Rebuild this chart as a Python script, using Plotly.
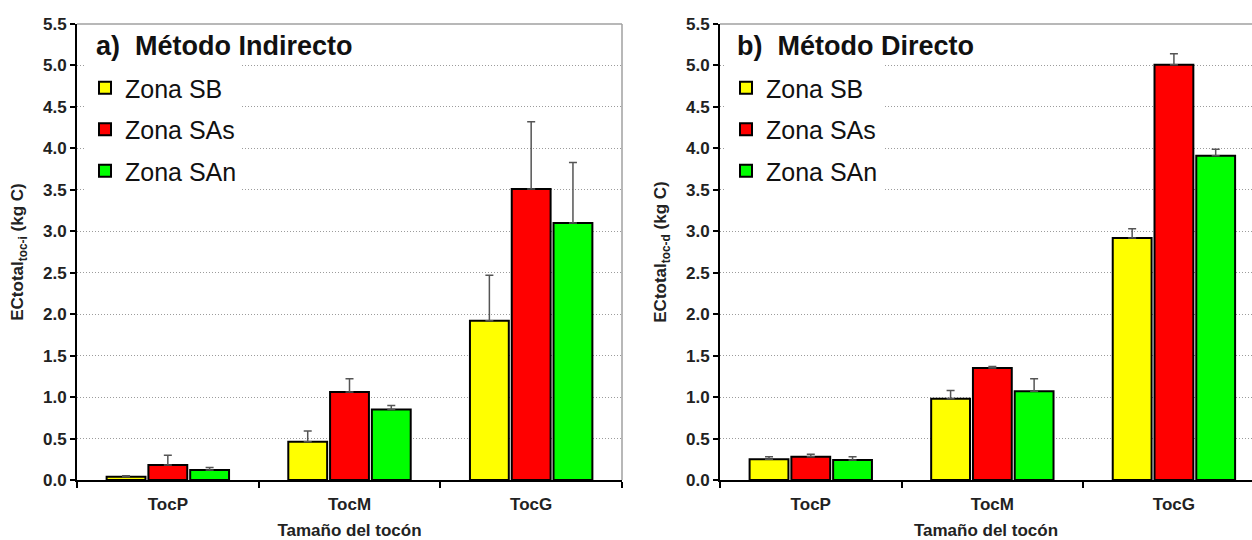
import plotly.graph_objects as go

categories = ["TocP", "TocM", "TocG"]
zones = ["Zona SB", "Zona SAs", "Zona SAn"]
colors = ["#FFFF00", "#FF0000", "#00FF00"]

# a) Método Indirecto
ind_SB = [0.04, 0.46, 1.92]
ind_SAs = [0.18, 1.06, 3.51]
ind_SAn = [0.12, 0.85, 3.10]
ind_SB_err = [0.01, 0.13, 0.55]
ind_SAs_err = [0.12, 0.16, 0.81]
ind_SAn_err = [0.03, 0.05, 0.73]

# b) Método Directo
dir_SB = [0.25, 0.98, 2.92]
dir_SAs = [0.28, 1.35, 5.01]
dir_SAn = [0.24, 1.07, 3.91]
dir_SB_err = [0.03, 0.10, 0.11]
dir_SAs_err = [0.03, 0.02, 0.13]
dir_SAn_err = [0.04, 0.15, 0.08]

y_ticks = [0.0, 0.5, 1.0, 1.5, 2.0, 2.5, 3.0, 3.5, 4.0, 4.5, 5.0, 5.5]

FONT = "Liberation Sans, Arial, sans-serif"

fig = go.Figure()

ind = [(ind_SB, ind_SB_err), (ind_SAs, ind_SAs_err), (ind_SAn, ind_SAn_err)]
dr = [(dir_SB, dir_SB_err), (dir_SAs, dir_SAs_err), (dir_SAn, dir_SAn_err)]

for i, (vals, err) in enumerate(ind):
    fig.add_trace(go.Bar(
        x=categories, y=vals, name=zones[i], xaxis="x", yaxis="y",
        marker=dict(color=colors[i], line=dict(color="black", width=2)),
        error_y=dict(type="data", array=err, arrayminus=[0] * len(err), symmetric=False,
                     color="#555555", thickness=1.5, width=4),
        legend="legend", legendgroup="a%d" % i,
    ))
for i, (vals, err) in enumerate(dr):
    fig.add_trace(go.Bar(
        x=categories, y=vals, name=zones[i], xaxis="x2", yaxis="y2",
        marker=dict(color=colors[i], line=dict(color="black", width=2)),
        error_y=dict(type="data", array=err, arrayminus=[0] * len(err), symmetric=False,
                     color="#555555", thickness=1.5, width=4),
        legend="legend2", legendgroup="b%d" % i,
    ))

W, H = 1252, 540
T, B = 24, 60
PH = H - T - B
L1, R1 = 77, 622
L2, R2 = 720, 1252


def py(ypx):
    return (H - B - ypx) / PH


yaxis_common = dict(
    range=[0, 5.5], tickvals=y_ticks, tickformat=".1f",
    showline=True, linecolor="black", linewidth=2,
    ticks="outside", ticklen=5, tickwidth=2, tickcolor="black",
    showgrid=True, gridcolor="#9c9c9c", griddash="1px,2px", gridwidth=1,
    zeroline=False, automargin=False,
    tickfont=dict(family=FONT, size=17, color="#222222", weight="bold"),
    title_font=dict(family=FONT, size=17, color="#222222"),
)
xaxis_common = dict(
    type="category", tickson="boundaries",
    showline=True, linecolor="black", linewidth=2,
    ticks="outside", ticklen=6, tickwidth=2, tickcolor="black",
    showgrid=False, zeroline=False, automargin=False,
    ticklabelstandoff=8,
    tickfont=dict(family=FONT, size=17, color="#222222", weight="bold"),
    title_font=dict(family=FONT, size=17, color="#222222"),
)

legend_common = dict(
    bgcolor="white", borderwidth=0,
    font=dict(family=FONT, size=25, color="#111111"),
    traceorder="grouped", tracegroupgap=6,
    xanchor="left", yanchor="top", itemwidth=30,
)

fig.update_layout(
    width=W, height=H,
    margin=dict(l=0, r=0, t=T, b=B, autoexpand=False),
    paper_bgcolor="white", plot_bgcolor="white",
    barmode="group", bargap=0.31, bargroupgap=0.07,
    font=dict(family=FONT),
    xaxis=dict(domain=[L1 / W, R1 / W], anchor="y", range=[-0.5, 2.5],
               title=dict(text="<b>Tamaño del tocón</b>"), **xaxis_common),
    yaxis=dict(domain=[0, 1], anchor="x",
               title=dict(text="<b>ECtotal<sub>toc-i</sub> (kg C)</b>"), **yaxis_common),
    xaxis2=dict(domain=[L2 / W, R2 / W], anchor="y2", range=[-0.5, 2.43],
                title=dict(text="<b>Tamaño del tocón</b>"), **xaxis_common),
    yaxis2=dict(domain=[0, 1], anchor="x2",
                title=dict(text="<b>ECtotal<sub>toc-d</sub> (kg C)</b>"), **yaxis_common),
    legend=dict(x=85 / W, y=py(65), **legend_common),
    legend2=dict(x=726 / W, y=py(65), **legend_common),
    showlegend=True,
    annotations=[
        dict(text="<b>a)  Método Indirecto</b>", xref="paper", yref="paper",
             x=94 / W, y=py(46), xanchor="left", yanchor="middle", showarrow=False,
             font=dict(family=FONT, size=27, color="#111111")),
        dict(text="<b>b)  Método Directo</b>", xref="paper", yref="paper",
             x=735 / W, y=py(46), xanchor="left", yanchor="middle", showarrow=False,
             font=dict(family=FONT, size=27, color="#111111")),
    ],
    shapes=[
        dict(type="line", xref="x domain", yref="y domain", x0=0, x1=1, y0=1, y1=1,
             line=dict(color="#a0a0a0", width=1.5)),
        dict(type="line", xref="x domain", yref="y domain", x0=1, x1=1, y0=0, y1=1,
             line=dict(color="#a0a0a0", width=1.5)),
        dict(type="line", xref="x2 domain", yref="y2 domain", x0=0, x1=1, y0=1, y1=1,
             line=dict(color="#a0a0a0", width=1.5)),
    ],
)

fig.write_html("out.html",
               config={"displayModeBar": False},
               post_script="document.body.style.margin='0';document.body.style.overflow='hidden';")
